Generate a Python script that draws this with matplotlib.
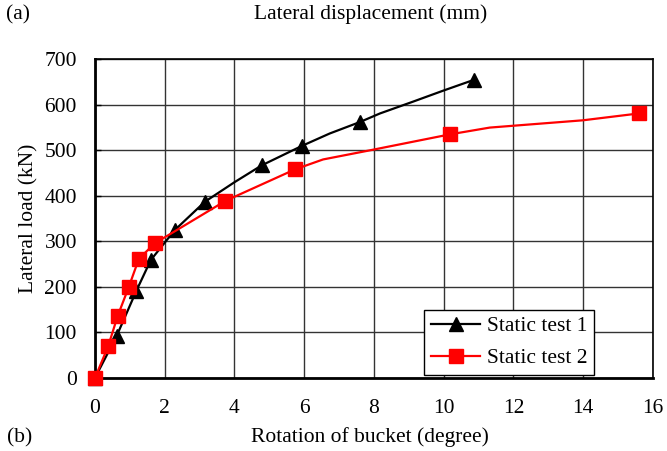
import matplotlib
matplotlib.use("Agg")
import matplotlib.pyplot as plt

# Static test 1 (line points; marked points listed by index)
rot1 = [0.0, 0.62, 1.19, 1.6, 2.29, 3.15, 4.0, 4.78, 5.94, 6.73, 7.59, 8.17, 9.12, 9.98, 10.87]
load1 = [0, 92, 192, 259, 325, 387, 430, 467, 510, 537, 562, 581, 607, 631, 655]
marks1 = [0, 1, 2, 3, 4, 5, 7, 8, 10, 14]

# Static test 2
rot2 = [0.0, 0.38, 0.65, 0.97, 1.26, 1.72, 3.74, 5.73, 6.54, 7.88, 10.17, 11.32, 13.99, 15.59]
load2 = [0, 70, 136, 200, 262, 296, 389, 458, 480, 500, 535, 550, 566, 581]
marks2 = [0, 1, 2, 3, 4, 5, 6, 7, 10, 13]

xticks = [0, 2, 4, 6, 8, 10, 12, 14, 16]
yticks = [0, 100, 200, 300, 400, 500, 600, 700]

plt.rcParams['font.family'] = ['Liberation Serif', 'DejaVu Serif']
FS = 15.5

fig = plt.figure(figsize=(6.67, 4.51), dpi=100)
ax = fig.add_axes([0.1424, 0.162, 0.979 - 0.1424, 0.8685 - 0.162])

ax.plot(rot1, load1, color='black', lw=1.6, marker='^', markersize=9.5,
        markevery=marks1, label='Static test 1', zorder=3, clip_on=False)
ax.plot(rot2, load2, color='red', lw=1.6, marker='s', markersize=10.5,
        markevery=marks2, label='Static test 2', zorder=4, clip_on=False)

ax.set_xlim(0, 16)
ax.set_ylim(0, 700)
ax.set_xticks(xticks)
ax.set_yticks(yticks)
ax.grid(True, color='#333333', lw=1.0)
ax.set_axisbelow(True)
ax.tick_params(axis='y', direction='in', length=4, labelsize=FS, pad=13, width=1)
ax.tick_params(axis='x', length=0, labelsize=FS, pad=15)
for s in ax.spines.values():
    s.set_linewidth(1.2)
ax.spines['left'].set_linewidth(2)
ax.spines['bottom'].set_linewidth(2)

ax.set_ylabel('Lateral load (kN)', fontsize=FS, labelpad=4)

fig.text(0.555, 0.968, 'Lateral displacement (mm)', ha='center', va='center', fontsize=FS)
fig.text(0.027, 0.968, '(a)', ha='center', va='center', fontsize=FS)
fig.text(0.555, 0.03, 'Rotation of bucket (degree)', ha='center', va='center', fontsize=FS)
fig.text(0.03, 0.03, '(b)', ha='center', va='center', fontsize=FS)

leg = ax.legend(loc='lower right', bbox_to_anchor=(0.894, 0.01), borderaxespad=0,
                fontsize=FS, fancybox=False, edgecolor='black', framealpha=1,
                handlelength=2.3, borderpad=0.3, labelspacing=0.55, handletextpad=0.3)
leg.get_frame().set_linewidth(1.0)

fig.savefig('out.png', dpi=100)
